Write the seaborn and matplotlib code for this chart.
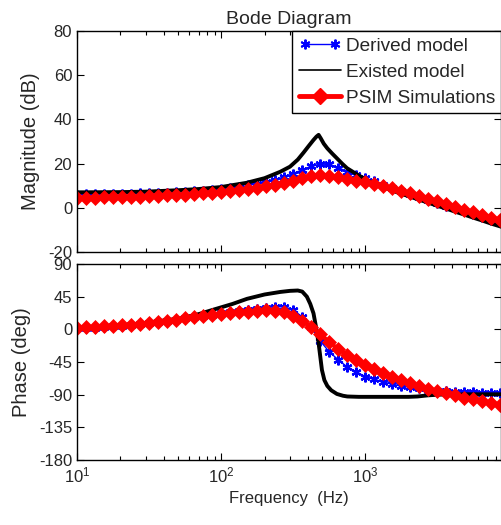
import matplotlib
matplotlib.use("Agg")
import matplotlib.pyplot as plt
import seaborn as sns
from matplotlib.lines import Line2D
from matplotlib.legend_handler import HandlerLine2D
from matplotlib.ticker import LogLocator, NullFormatter, FixedLocator

# ---------------- data ----------------
freq = [10, 11.5, 13.3, 15.4, 17.8, 20.5, 23.7, 27.4, 31.6, 36.5,
        42.2, 48.7, 56.2, 64.9, 75.0, 86.6, 100, 115, 133, 154,
        178, 205, 237, 274, 316, 365, 422, 487, 562, 649,
        750, 866, 1000, 1155, 1334, 1540, 1778, 2054, 2371, 2738,
        3162, 3652, 4217, 4870, 5623, 6494, 7499, 8660]

psim_mag = [4.4, 4.5, 4.6, 4.7, 4.8, 4.9, 5.0, 5.1, 5.2, 5.4,
            5.6, 5.8, 6.0, 6.3, 6.6, 6.9, 7.3, 7.7, 8.1, 8.6,
            9.1, 9.7, 10.4, 11.2, 12.2, 13.3, 14.3, 14.8, 14.6, 13.9,
            13.1, 12.3, 11.5, 10.7, 9.8, 8.8, 7.7, 6.6, 5.4, 4.2,
            2.9, 1.7, 0.5, -0.8, -2.0, -3.3, -4.4, -5.5]

psim_phase = [2, 3, 3.5, 4, 5, 5.5, 6.5, 7.5, 8.5, 10,
              11.5, 13, 15, 16.5, 18, 19.5, 21, 22.5, 23.5, 24.5,
              25.5, 26, 25.5, 23.5, 19, 12, 3, -6, -18, -27,
              -35, -42, -49, -55, -60, -65, -70, -74, -78, -82,
              -85, -88, -91, -94, -96.5, -99, -101.5, -104]

derived_mag = [6.0, 6.05, 6.1, 6.15, 6.2, 6.3, 6.4, 6.5, 6.6, 6.7,
               6.85, 7.0, 7.2, 7.4, 7.7, 8.0, 8.3, 8.8, 9.4, 10.1,
               10.9, 11.8, 12.8, 14.0, 15.5, 17.2, 18.8, 19.8, 19.6, 18.2,
               16.3, 14.9, 13.5, 12.0, 10.5, 9.1, 7.7, 6.3, 4.9, 3.6,
               2.3, 1.0, -0.3, -1.6, -2.9, -4.1, -5.3, -6.5]

derived_phase = [1.5, 2, 2.5, 3.5, 4.5, 5, 6, 7, 8.5, 10,
                 11.5, 13, 15, 16.5, 18.5, 20, 22, 23.5, 25, 27,
                 28.5, 30, 31, 31, 27, 17, 3, -16, -31, -42,
                 -52, -59, -65, -69, -72.5, -75.5, -78, -80, -81.5, -83,
                 -84.5, -85.5, -86, -86.5, -87, -87.5, -88, -88]

existed_mag_freq = [10, 20, 30, 52, 70, 100, 150, 200, 257, 300,
                    340, 373, 405, 437, 458, 474, 490, 515, 545, 590,
                    635, 690, 747, 866, 1000, 1155, 1334, 1540, 1778, 2054,
                    2371, 2738, 3162, 3652, 4217, 4870, 5623, 6494, 7499, 8800]
existed_mag = [7.0, 7.1, 7.3, 8.0, 8.5, 9.4, 11.3, 13.4, 16.3, 18.6,
               21.8, 25.0, 28.0, 30.7, 32.2, 33.0, 31.5, 29.0, 26.9, 24.5,
               22.4, 20.0, 17.9, 15.3, 12.9, 10.9, 9.3, 7.8, 6.3, 5.0,
               3.6, 2.3, 0.9, -0.4, -1.8, -3.1, -4.5, -5.8, -7.2, -8.6]

existed_phase_freq = [10, 20, 30, 52, 70, 88, 120, 151, 200, 257,
                      300, 340, 365, 393, 415, 437, 455, 474, 500, 520,
                      545, 580, 635, 700, 750, 900, 1500, 2000, 2300, 2700,
                      3200, 3900, 5000, 8800]
existed_phase = [1, 5, 9, 15, 21, 27, 35, 42, 48, 51.5,
                 53, 53.5, 52, 45, 35, 22, 3, -19, -56, -70,
                 -78, -84, -89, -91.5, -92.5, -93, -93, -93, -92.5, -91,
                 -90, -89.5, -89.5, -89.5]

labels = ["Derived model", "Existed model", "PSIM Simulations"]
mag_ticks = [-20, 0, 20, 40, 60, 80]
phase_ticks = [-180, -135, -90, -45, 0, 45, 90]

# ---------------- style ----------------
sns.set_style("ticks")
plt.rcParams['font.family'] = ['Liberation Sans', 'DejaVu Sans']
plt.rcParams['axes.unicode_minus'] = False
plt.rcParams['mathtext.fontset'] = 'custom'
plt.rcParams['mathtext.rm'] = 'Liberation Sans'
plt.rcParams['mathtext.it'] = 'Liberation Sans:italic'

fig = plt.figure(figsize=(5.02, 5.25), dpi=100)
W, H = 502, 525
ax1 = fig.add_axes([77 / W, 1 - 252 / H, 424.5 / W, 221 / H])
ax2 = fig.add_axes([77 / W, 1 - 460 / H, 424.5 / W, 196 / H])

ASTER = (6, 2, 0)
blue_kw = dict(color='blue', linewidth=1.0, marker=ASTER, markersize=7,
               markeredgecolor='blue', markeredgewidth=1.6)
black_kw = dict(color='black', linewidth=2.8)
red_kw = dict(color='red', linewidth=3.0, marker='D', markersize=7,
              markeredgecolor='red', markeredgewidth=0.5)

for ax, yb, yk, yr, fk in [(ax1, derived_mag, existed_mag, psim_mag, existed_mag_freq),
                            (ax2, derived_phase, existed_phase, psim_phase, existed_phase_freq)]:
    sns.lineplot(x=freq, y=yb, ax=ax, legend=False, **blue_kw)
    sns.lineplot(x=fk, y=yk, ax=ax, legend=False, **black_kw)
    sns.lineplot(x=freq, y=yr, ax=ax, legend=False, **red_kw)
    ax.set_xscale('log')
    ax.set_xlim(10, 8800)
    ax.tick_params(which='both', direction='in', top=True, right=True,
                   labelsize=12, width=0.8, color='black')
    ax.tick_params(which='major', length=5)
    ax.tick_params(which='minor', length=3)
    ax.tick_params(axis='x', pad=4)
    ax.xaxis.set_major_locator(LogLocator(base=10))
    ax.xaxis.set_minor_locator(LogLocator(base=10, subs=range(2, 10)))
    ax.xaxis.set_minor_formatter(NullFormatter())
    for s in ax.spines.values():
        s.set_linewidth(1.0)
        s.set_color('black')
        s.set_visible(True)
    ax.set_xlabel('')

ax1.set_ylim(-20, 80)
ax1.yaxis.set_major_locator(FixedLocator(mag_ticks))
ax1.tick_params(labelbottom=False)
ax1.set_ylabel("Magnitude (dB)", fontsize=14.5, labelpad=6)
ax1.set_title("Bode Diagram", fontsize=14, pad=5)

ax2.set_ylim(-180, 90)
ax2.yaxis.set_major_locator(FixedLocator(phase_ticks))
ax2.set_ylabel("Phase (deg)", fontsize=14.5, labelpad=6)
ax2.set_xlabel("Frequency  (Hz)", fontsize=12, labelpad=4)

# legend
h_blue = Line2D([], [], color='blue', linewidth=1.0, marker=ASTER, markersize=7,
                markeredgecolor='blue', markeredgewidth=1.4)
h_black = Line2D([], [], color='black', linewidth=1.2)
h_red = Line2D([], [], color='red', linewidth=3.5, marker='D', markersize=8,
               markeredgecolor='red')
leg = ax1.legend([h_blue, h_black, h_red], labels, loc='upper right',
                 handler_map={h_blue: HandlerLine2D(numpoints=2)}, numpoints=1,
                 frameon=True, fancybox=False, framealpha=1, edgecolor='black',
                 fontsize=13.7, handlelength=2.2, handletextpad=0.25,
                 borderpad=0.35, labelspacing=0.45, borderaxespad=0)
leg.get_frame().set_linewidth(1.0)

fig.savefig("out.png", dpi=100)
